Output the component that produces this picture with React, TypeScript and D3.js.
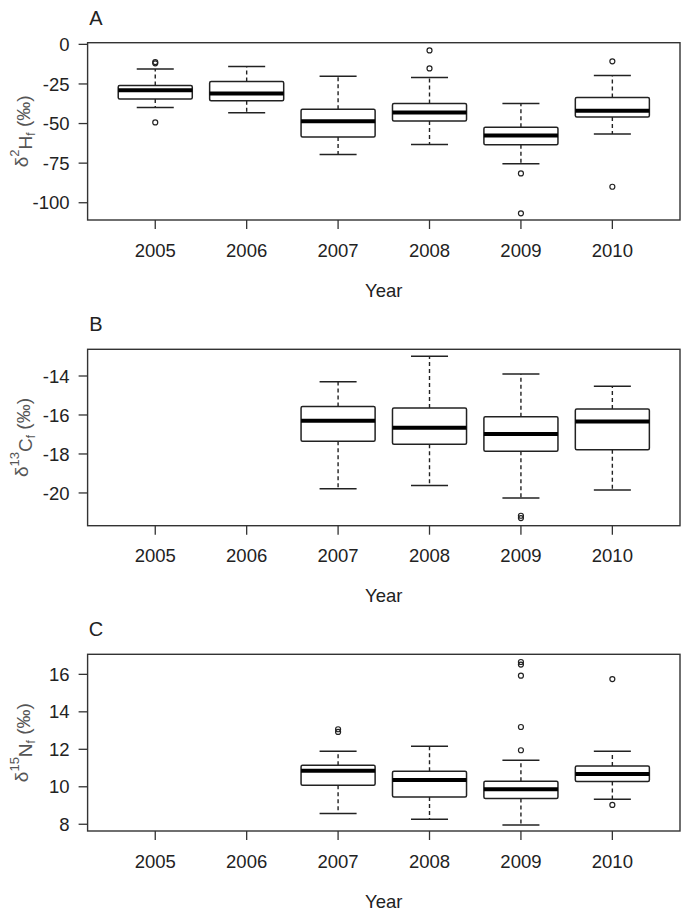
import React from "react";
import * as d3 from "d3";

const years = ["2005", "2006", "2007", "2008", "2009", "2010"];

// Panel A: δ2H
const aLow = [-39.8, -43.2, -69.5, -63.2, -75.4, -56.6];
const aQ1 = [-34.5, -35.6, -58.5, -48.4, -63.4, -45.9];
const aMed = [-29.0, -31.0, -48.6, -43.0, -57.5, -41.9];
const aQ3 = [-25.9, -23.4, -41.0, -37.3, -52.4, -33.5];
const aHigh = [-15.6, -13.9, -20.2, -21.0, -37.3, -19.6];
const aOut = [[-11.2, -12.0, -49.3], [], [], [-3.8, -15.2], [-81.5, -106.7], [-10.7, -89.9]];
const aTicks = [0, -25, -50, -75, -100];

// Panel B: δ13C
const bLow = [null, null, -19.78, -19.62, -20.26, -19.85];
const bQ1 = [null, null, -17.35, -17.5, -17.86, -17.78];
const bMed = [null, null, -16.29, -16.65, -16.97, -16.34];
const bQ3 = [null, null, -15.56, -15.64, -16.09, -15.69];
const bHigh = [null, null, -14.29, -12.99, -13.9, -14.53];
const bOut = [[], [], [], [], [-21.17, -21.29], []];
const bTicks = [-14, -16, -18, -20];

// Panel C: δ15N
const cLow = [null, null, 8.57, 8.27, 7.96, 9.33];
const cQ1 = [null, null, 10.08, 9.46, 9.37, 10.28];
const cMed = [null, null, 10.86, 10.36, 9.87, 10.68];
const cQ3 = [null, null, 11.15, 10.83, 10.29, 11.11];
const cHigh = [null, null, 11.89, 12.16, 11.41, 11.89];
const cOut = [[], [], [12.93, 13.07], [], [16.52, 16.66, 15.93, 13.19, 11.95], [15.75, 9.03]];
const cTicks = [8, 10, 12, 14, 16];

const panels = [
  { letter: "A", top: 42.7, bottom: 220, domain: [-110.9, 1.05], ticks: aTicks, low: aLow, q1: aQ1, med: aMed, q3: aQ3, high: aHigh, out: aOut, sup: "2", el: "H" },
  { letter: "B", top: 349.3, bottom: 525.7, domain: [-21.68, -12.63], ticks: bTicks, low: bLow, q1: bQ1, med: bMed, q3: bQ3, high: bHigh, out: bOut, sup: "13", el: "C" },
  { letter: "C", top: 654.3, bottom: 831, domain: [7.64, 17.07], ticks: cTicks, low: cLow, q1: cQ1, med: cMed, q3: cQ3, high: cHigh, out: cOut, sup: "15", el: "N" },
];

const LEFT = 87.6;
const RIGHT = 680;
const FONT = "'Liberation Sans', Arial, Helvetica, sans-serif";
const INK = "#222";

function Panel({ p }: { p: any }) {
  const x = d3.scaleLinear().domain([0.26, 6.74]).range([LEFT, RIGHT]);
  const y = d3.scaleLinear().domain(p.domain).range([p.bottom, p.top]);
  const unit = x(2) - x(1);
  const bw = unit * 0.81;
  const cw = bw / 2;
  const midY = (p.top + p.bottom) / 2;
  return (
    <g>
      <text x={96} y={p.top - 18} fontSize={20} fontFamily={FONT} fill={INK} textAnchor="middle">{p.letter}</text>
      <rect x={LEFT} y={p.top} width={RIGHT - LEFT} height={p.bottom - p.top} fill="none" stroke="#333" strokeWidth={1.4} />
      {p.ticks.map((t: number) => (
        <g key={t}>
          <line x1={LEFT - 9} x2={LEFT} y1={y(t)} y2={y(t)} stroke="#333" strokeWidth={1.3} />
          <text x={LEFT - 18} y={y(t)} dy="0.36em" fontSize={18.5} fontFamily={FONT} fill={INK} textAnchor="end">{t}</text>
        </g>
      ))}
      {years.map((yr, i) => (
        <g key={yr}>
          <line x1={x(i + 1)} x2={x(i + 1)} y1={p.bottom} y2={p.bottom + 9} stroke="#333" strokeWidth={1.3} />
          <text x={x(i + 1)} y={p.bottom + 30} dy="0.36em" fontSize={18.5} fontFamily={FONT} fill={INK} textAnchor="middle">{yr}</text>
        </g>
      ))}
      <text x={(LEFT + RIGHT) / 2} y={p.bottom + 70} dy="0.36em" fontSize={18.5} fontFamily={FONT} fill={INK} textAnchor="middle">Year</text>
      <text transform={`translate(21,${midY}) rotate(-90)`} fontSize={19} fontFamily={FONT} fill="#555" textAnchor="middle" dy="0.36em">
        δ<tspan fontSize={13} dy="-0.65em">{p.sup}</tspan><tspan dy="0.65em">{p.el}</tspan><tspan fontSize={12} dy="0.3em">f</tspan><tspan dy="-0.3em"> (‰)</tspan>
      </text>
      {years.map((yr, i) => {
        if (p.med[i] === null) return null;
        const cx = x(i + 1);
        return (
          <g key={"b" + yr}>
            <line x1={cx} x2={cx} y1={y(p.q3[i])} y2={y(p.high[i])} stroke="#222" strokeWidth={1.4} strokeDasharray="4,3" />
            <line x1={cx} x2={cx} y1={y(p.q1[i])} y2={y(p.low[i])} stroke="#222" strokeWidth={1.4} strokeDasharray="4,3" />
            <line x1={cx - cw / 2} x2={cx + cw / 2} y1={y(p.high[i])} y2={y(p.high[i])} stroke="#222" strokeWidth={1.5} />
            <line x1={cx - cw / 2} x2={cx + cw / 2} y1={y(p.low[i])} y2={y(p.low[i])} stroke="#222" strokeWidth={1.5} />
            <rect x={cx - bw / 2} y={y(p.q3[i])} width={bw} height={y(p.q1[i]) - y(p.q3[i])} fill="white" stroke="#222" strokeWidth={1.5} rx={1.5} />
            <line x1={cx - bw / 2} x2={cx + bw / 2} y1={y(p.med[i])} y2={y(p.med[i])} stroke="#000" strokeWidth={4} />
            {p.out[i].map((o: number, k: number) => (
              <circle key={k} cx={cx} cy={y(o)} r={2.5} fill="none" stroke="#222" strokeWidth={1.2} />
            ))}
          </g>
        );
      })}
    </g>
  );
}

export default function App() {
  return (
    <svg width={683} height={913} style={{ position: "absolute", left: 0, top: 0, background: "white" }}>
      <rect width={683} height={913} fill="white" />
      {panels.map((p) => (
        <Panel key={p.letter} p={p} />
      ))}
    </svg>
  );
}
